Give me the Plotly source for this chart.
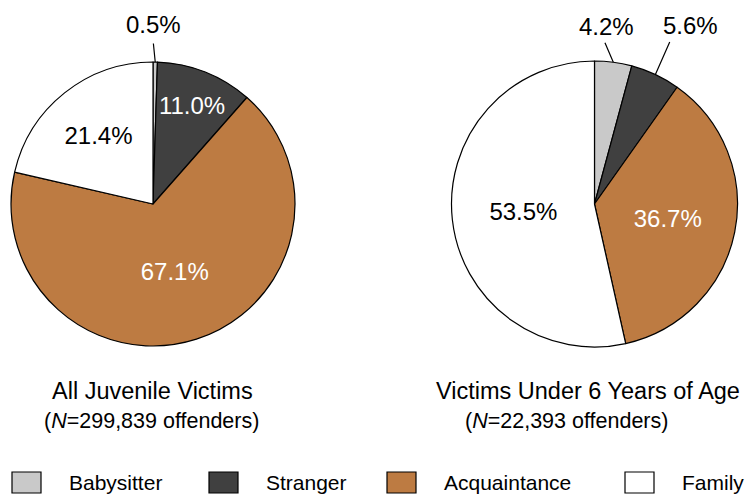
import math
import plotly.graph_objects as go

# ---------------- data ----------------
categories = ["Babysitter", "Stranger", "Acquaintance", "Family"]
all_juvenile_pct = [0.5, 11.0, 67.1, 21.4]
under_six_pct = [4.2, 5.6, 36.7, 53.5]
pie_titles = ["All Juvenile Victims", "Victims Under 6 Years of Age"]
pie_subtitles = ["(<i>N</i>=299,839 offenders)", "(<i>N</i>=22,393 offenders)"]

# ---------------- style ----------------
W, H = 748, 495
FONT = "Liberation Sans, Arial, Helvetica, sans-serif"
colors = ["#c9c9c9", "#404040", "#bd7b42", "#ffffff"]
inside_text_colors = ["#000000", "#ffffff", "#ffffff", "#000000"]

pies = [
    dict(values=all_juvenile_pct, cx=153, cy=204, r=142,
         # slice index -> (leader tail offset px, text offset px) from the edge point
         outside={0: ((-2, -20), (-2, -38))},
         title_pos=(152.5, 391), sub_pos=(151, 421)),
    dict(values=under_six_pct, cx=594.5, cy=204, r=143,
         outside={0: ((-9, -21), (-7, -36)), 1: ((15, -34), (35, -49))},
         title_pos=(587.5, 391), sub_pos=(566.5, 421)),
]

fig = go.Figure()
annotations = []
shapes = []

for k, p in enumerate(pies):
    vals = p["values"]
    cx, cy, r = p["cx"], p["cy"], p["r"]
    textpos = ["none" if i in p["outside"] else "inside" for i in range(len(vals))]
    fig.add_trace(go.Pie(
        labels=categories,
        values=vals,
        sort=False,
        direction="clockwise",
        rotation=0,
        marker=dict(colors=colors, line=dict(color="#000000", width=1.2)),
        texttemplate="%{value:.1f}%",
        textposition=textpos,
        insidetextorientation="horizontal",
        insidetextfont=dict(family=FONT, size=24, color=inside_text_colors),
        domain=dict(x=[(cx - r) / W, (cx + r) / W],
                    y=[1 - (cy + r) / H, 1 - (cy - r) / H]),
        showlegend=False,
        hoverinfo="label+percent",
    ))

    total = sum(vals)
    cum = 0.0
    for i, v in enumerate(vals):
        mid = (cum + v / 2) / total * 2 * math.pi
        cum += v
        if i not in p["outside"]:
            continue
        ex = cx + r * math.sin(mid)
        ey = cy - r * math.cos(mid)
        (tdx, tdy), (sdx, sdy) = p["outside"][i]
        # leader line
        annotations.append(dict(
            x=ex / W, y=1 - ey / H, xref="paper", yref="paper",
            text="", showarrow=True, arrowhead=0, arrowwidth=1.2,
            arrowcolor="#000000", ax=tdx, ay=tdy, axref="pixel", ayref="pixel",
            standoff=0, startstandoff=0,
        ))
        # label
        annotations.append(dict(
            x=ex / W, y=1 - ey / H, xref="paper", yref="paper",
            xshift=sdx, yshift=-sdy, xanchor="center", yanchor="middle",
            text=f"{v:.1f}%", showarrow=False,
            font=dict(family=FONT, size=24, color="#000000"),
        ))

    tx, ty = p["title_pos"]
    annotations.append(dict(
        x=tx / W, y=1 - ty / H, xref="paper", yref="paper",
        xanchor="center", yanchor="middle", showarrow=False,
        text=pie_titles[k],
        font=dict(family=FONT, size=23.5, color="#000000"),
    ))
    sx, sy = p["sub_pos"]
    annotations.append(dict(
        x=sx / W, y=1 - sy / H, xref="paper", yref="paper",
        xanchor="center", yanchor="middle", showarrow=False,
        text=pie_subtitles[k],
        font=dict(family=FONT, size=21.5, color="#000000"),
    ))

# ---------------- legend (drawn manually, large swatches) ----------------
legend_x = [12, 209, 387, 625]
sw_w, sw_h, sw_top = 29, 21, 472
for i, name in enumerate(categories):
    x0 = legend_x[i]
    shapes.append(dict(
        type="rect", xref="paper", yref="paper",
        x0=x0 / W, x1=(x0 + sw_w) / W,
        y0=1 - (sw_top + sw_h) / H, y1=1 - sw_top / H,
        fillcolor=colors[i], line=dict(color="#000000", width=1.2),
    ))
    annotations.append(dict(
        x=(x0 + 55) / W, y=1 - (sw_top + sw_h / 2) / H,
        xref="paper", yref="paper", xanchor="left", yanchor="middle",
        text=name, showarrow=False,
        font=dict(family=FONT, size=21, color="#000000"),
    ))

fig.update_layout(
    width=W, height=H,
    margin=dict(l=0, r=0, t=0, b=0),
    paper_bgcolor="#ffffff",
    plot_bgcolor="#ffffff",
    font=dict(family=FONT, color="#000000"),
    annotations=annotations,
    shapes=shapes,
    showlegend=False,
)

fig.write_html(
    "out.html",
    config={"displayModeBar": False},
    post_script="document.body.style.margin='0';document.body.style.padding='0';",
)
